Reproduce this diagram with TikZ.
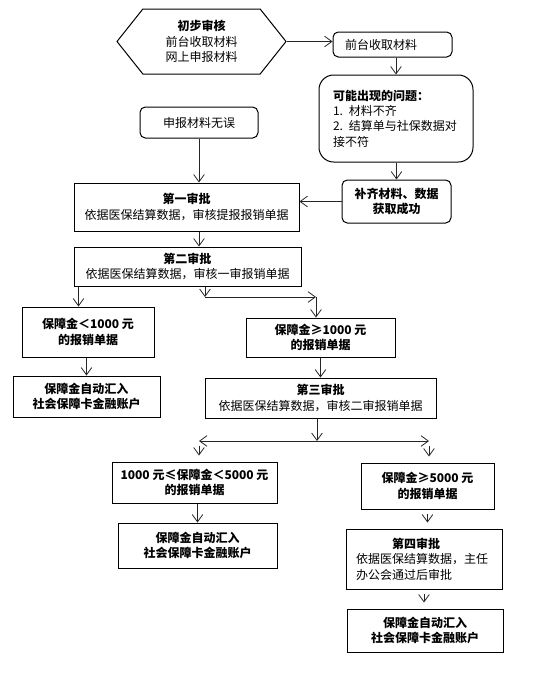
\documentclass[tikz,border=0pt]{standalone}
\usepackage{fontspec}
\setmainfont{Noto Sans CJK SC}
\usepackage{tikz}
\usetikzlibrary{arrows.meta,shapes.symbols}

\begin{document}
\begin{tikzpicture}[x=0.75pt, y=-0.75pt,
  every node/.style={font=\fontsize{9}{11.5}\selectfont},
  B/.style={draw=black, line width=0.75pt, align=center, inner sep=2pt},
  R/.style={B, rounded corners=4pt},
  bf/.style={font=\fontsize{9}{11.5}\selectfont\bfseries},
  hexa/.style={draw=black, line width=0.75pt, signal, signal to=west and east,
    signal pointer angle=103, align=center},
  arr/.style={-{Straight Barb[length=5.5pt, width=8pt]}, black!85, line width=0.6pt},
  gap/.style={shorten <=3.5pt, shorten >=4.5pt}]

  \useasboundingbox (0,0) rectangle (541,682);

  % 初步审核
  \node[hexa, minimum width=126.75pt, minimum height=48.75pt] (start) at (201.5,41.5)
    {\textbf{初步审核}\\前台收取材料\\网上申报材料};
  \node[R, align=left, text width=71.25pt, inner xsep=9pt, minimum height=18.75pt] (front) at (392.5,44.5)
    {前台收取材料};
  \node[R, rounded corners=11pt, align=left, text width=94.5pt, inner xsep=10.5pt, minimum height=65.25pt] (issue) at (396,118.5)
    {\textbf{可能出现的问题：}\\1. 材料不齐\\2. 结算单与社保数据对\\接不符};
  \node[R, bf, minimum width=81.75pt, minimum height=32.25pt] (supply) at (396.5,201.5)
    {补齐材料、数据\\获取成功};
  \node[R, minimum width=88.5pt, minimum height=23.25pt] (ok) at (199,122.5) {申报材料无误};

  % 审批
  \node[B, minimum width=168.75pt, minimum height=36pt] (first) at (186.5,207)
    {\textbf{第一审批}\\依据医保结算数据，审核提报报销单据};
  \node[B, minimum width=170.25pt, minimum height=29.25pt] (second) at (187.5,266.5)
    {\textbf{第二审批}\\依据医保结算数据，审核一审报销单据};
  \node[B, bf, minimum width=99pt, minimum height=37.5pt] (lt1000) at (88,332)
    {保障金＜1000 元\\的报销单据};
  \node[B, bf, minimum width=110.25pt, minimum height=30.75pt] (pay1) at (86.5,396.5)
    {保障金自动汇入\\社会保障卡金融账户};
  \node[B, bf, minimum width=111.75pt, minimum height=29.25pt] (ge1000) at (320.5,337.5)
    {保障金≥1000 元\\的报销单据};
  \node[B, minimum width=173.25pt, minimum height=30pt] (third) at (320.5,398)
    {\textbf{第三审批}\\依据医保结算数据，审核二审报销单据};
  \node[B, bf, minimum width=123.75pt, minimum height=30.75pt] (mid) at (194.5,482.5)
    {1000 元≤保障金＜5000 元\\的报销单据};
  \node[B, bf, minimum width=119.25pt, minimum height=33.75pt] (pay2) at (197.5,545.5)
    {保障金自动汇入\\社会保障卡金融账户};
  \node[B, bf, minimum width=99.75pt, minimum height=34.5pt] (ge5000) at (427.5,486)
    {保障金≥5000 元\\的报销单据};
  \node[B, align=left, text width=102pt, inner xsep=7.5pt, minimum height=45pt] (fourth) at (424,559)
    {\hspace*{3em}\textbf{第四审批}\\依据医保结算数据，主任\\办公会通过后审批};
  \node[B, bf, minimum width=117pt, minimum height=32.25pt] (pay3) at (425,630.5)
    {保障金自动汇入\\社会保障卡金融账户};

  % 分支点
  \coordinate (j1) at (205,297);
  \coordinate (j2) at (316,297);
  \coordinate (j3) at (317,441);
  \coordinate (jl) at (199,441);
  \coordinate (jr) at (429,441);

  % 连线
  \draw[arr] (start.east) -- (start.east -| front.west);
  \foreach \a/\b in {front/issue, issue/supply, lt1000/pay1, mid/pay2, ge1000/third}
    \draw[arr] (\b.north |- \a.south) -- (\b.north);
  \draw[arr] (supply.west) -- (supply.west -| first.east);
  \draw[arr] (ok.south) -- (ok.south |- first.north);
  \draw[arr] (ok.south |- first.south) -- (ok.south |- second.north);
  \draw[arr] ([xshift=3.75pt]second.south west) -- ([xshift=3.75pt]second.south west |- lt1000.north);
  \draw[arr] (second.south -| j1) -- (j1);
  \draw[arr] (j1) -- (j2);
  \draw[arr] (j2) -- (j2 |- ge1000.north);
  \draw[arr] (third.south -| j3) -- (j3);
  \draw[arr] (j3) -- (jl);
  \draw[arr] (j3) -- (jr);
  \draw[arr, gap] (jl) -- (jl |- mid.north);
  \draw[arr, gap] (jr) -- (jr |- ge5000.north);
  \draw[arr, gap] (ge5000.south) -- (ge5000.south |- fourth.north);
  \draw[arr, gap] (fourth.south) -- (fourth.south |- pay3.north);
\end{tikzpicture}
\end{document}
